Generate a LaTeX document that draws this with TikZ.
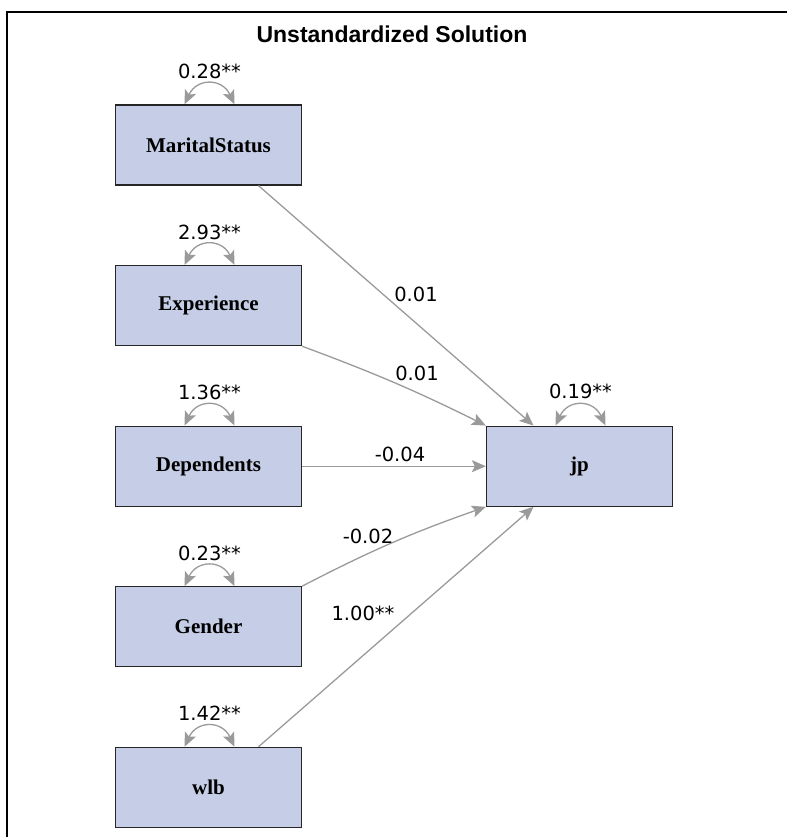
\documentclass[tikz,border=0pt]{standalone}
\usepackage{fontspec}
\setmainfont{Liberation Serif}
\newfontfamily\coeffont{DejaVu Sans}
\newfontfamily\titlefont{Liberation Sans}
\usetikzlibrary{arrows.meta}
\definecolor{boxfill}{HTML}{C5CEE6}
\definecolor{pathgray}{HTML}{9A9A9A}

\tikzset{
  obsvar/.style={draw=black!85, line width=1.3pt, fill=boxfill,
    minimum width=186pt, minimum height=80pt, inner sep=0pt,
    font=\fontsize{21}{24}\selectfont\bfseries},
  regpath/.style={draw=pathgray, line width=1.3pt,
    -{Stealth[length=14pt,width=12pt,inset=3pt]}},
  covloop/.style={draw=pathgray, line width=1.3pt,
    {Stealth[length=14pt,width=12pt,inset=3pt]}-{Stealth[length=14pt,width=12pt,inset=3pt]},
    out=65, in=115, looseness=1.5},
  coef/.style={font=\coeffont\fontsize{19.5}{22}\selectfont}
}

\begin{document}
\begin{tikzpicture}[x=1pt,y=1pt]
  \def\xl{208.5}
  \def\ysep{160.6}
  \def\ytop{-145}

  \useasboundingbox (0,0) rectangle (787,-837);
  \draw[line width=1.5pt] (7,-837) -- (7,-12) -- (787,-12);

  \node[font=\titlefont\fontsize{23}{26}\selectfont\bfseries] (title) at (392,-34) {Unstandardized Solution};

  \node[obsvar] (ms)  at (\xl, {\ytop})           {MaritalStatus};
  \node[obsvar] (exp) at (\xl, {\ytop-1*\ysep})   {Experience};
  \node[obsvar] (dep) at (\xl, {\ytop-2*\ysep})   {Dependents};
  \node[obsvar] (gen) at (\xl, {\ytop-3*\ysep})   {Gender};
  \node[obsvar] (wlb) at (\xl, {\ytop-4*\ysep})   {wlb};
  \node[obsvar] (jp)  at (579.5, {\ytop-2*\ysep}) {jp};

  % variances
  \draw[covloop] ([xshift=-24pt]ms.north) to ([xshift=26pt]ms.north);
  \draw[covloop] ([xshift=-24pt]exp.north) to ([xshift=26pt]exp.north);
  \draw[covloop] ([xshift=-24pt]dep.north) to ([xshift=26pt]dep.north);
  \draw[covloop] ([xshift=-24pt]gen.north) to ([xshift=26pt]gen.north);
  \draw[covloop] ([xshift=-24pt]wlb.north) to ([xshift=26pt]wlb.north);
  \draw[covloop] ([xshift=-24pt]jp.north) to ([xshift=26pt]jp.north);

  \node[coef] (vms)  at ([xshift=1pt,yshift=33pt]ms.north)  {0.28**};
  \node[coef] (vexp) at ([xshift=1pt,yshift=33pt]exp.north) {2.93**};
  \node[coef] (vdep) at ([xshift=1pt,yshift=33pt]dep.north) {1.36**};
  \node[coef] (vgen) at ([xshift=1pt,yshift=33pt]gen.north) {0.23**};
  \node[coef] (vwlb) at ([xshift=1pt,yshift=33pt]wlb.north) {1.42**};
  \node[coef] (vjp)  at ([xshift=1pt,yshift=34pt]jp.north)  {0.19**};

  % regressions
  \draw[regpath] ([xshift=50pt]ms.south) -- ([xshift=-46pt]jp.north);
  \draw[regpath] (exp.south east) to[bend left=3] (jp.north west);
  \draw[regpath] (dep.east) -- (jp.west);
  \draw[regpath] (gen.north east) to[bend left=4] (jp.south west);
  \draw[regpath] ([xshift=50pt]wlb.north) -- ([xshift=-46pt]jp.south);

  \node[coef] (cms)  at (416,-294) {0.01};
  \node[coef] (cexp) at (417,-373) {0.01};
  \node[coef] (cdep) at (400,-454) {-0.04};
  \node[coef] (cgen) at (368,-536) {-0.02};
  \node[coef] (cwlb) at (363,-613) {1.00**};
\end{tikzpicture}
\end{document}
